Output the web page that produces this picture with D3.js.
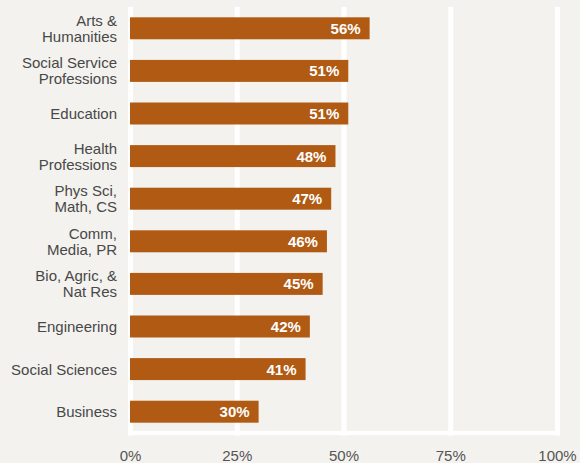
<!DOCTYPE html>
<html>
<head>
<meta charset="utf-8">
<script src="https://cdn.jsdelivr.net/npm/d3@7"></script>
<style>
  html, body { margin: 0; padding: 0; background: #f3f2ee; }
  svg { display: block; }
  text { font-family: "Liberation Sans", Arial, Helvetica, sans-serif; }
</style>
</head>
<body>
<div id="chart"></div>
<script>
// Share by field of study
const categories = [
  "Arts &\nHumanities",
  "Social Service\nProfessions",
  "Education",
  "Health\nProfessions",
  "Phys Sci,\nMath, CS",
  "Comm,\nMedia, PR",
  "Bio, Agric, &\nNat Res",
  "Engineering",
  "Social Sciences",
  "Business"
];
const values = [56, 51, 51, 48, 47, 46, 45, 42, 41, 30];
const tickValues = [0, 25, 50, 75, 100];
const tickLabels = ["0%", "25%", "50%", "75%", "100%"];

const width = 580, height = 463;
const barColor = "#b05a13";
const gridColor = "#ffffff";
const labelColor = "#484848";

const svg = d3.select("#chart").append("svg")
  .attr("width", width)
  .attr("height", height);

svg.append("rect").attr("width", width).attr("height", height).attr("fill", "#f3f2ee");

const x = d3.scaleLinear().domain([0, 100]).range([130.5, 557.5]);
const y = d3.scaleBand()
  .domain(categories)
  .range([7, 433])
  .paddingInner(0.484)
  .paddingOuter(0.242);

const gridTop = 7, gridBottom = 433;

// vertical gridlines
svg.append("g").selectAll("line")
  .data(tickValues)
  .join("line")
  .attr("x1", d => x(d))
  .attr("x2", d => x(d))
  .attr("y1", gridTop)
  .attr("y2", gridBottom + 2.5)
  .attr("stroke", gridColor)
  .attr("stroke-width", 5);

// bottom baseline
svg.append("line")
  .attr("x1", x(0) - 2.5)
  .attr("x2", x(100) + 2.5)
  .attr("y1", gridBottom)
  .attr("y2", gridBottom)
  .attr("stroke", gridColor)
  .attr("stroke-width", 4);

// bars
svg.append("g").selectAll("rect")
  .data(values)
  .join("rect")
  .attr("x", x(0) - 0.5)
  .attr("y", (d, i) => y(categories[i]))
  .attr("width", d => x(d) - x(0) + 0.5)
  .attr("height", y.bandwidth())
  .attr("fill", barColor);

// value labels inside bars
svg.append("g").selectAll("text")
  .data(values)
  .join("text")
  .attr("x", d => x(d) - 9)
  .attr("y", (d, i) => y(categories[i]) + y.bandwidth() / 2)
  .attr("dy", "0.36em")
  .attr("text-anchor", "end")
  .attr("fill", "#ffffff")
  .attr("font-size", 15)
  .attr("font-weight", "bold")
  .text(d => d + "%");

// category labels
const catG = svg.append("g");
categories.forEach((c, i) => {
  const lines = c.split("\n");
  const cy = y(c) + y.bandwidth() / 2;
  const lh = 16;
  const t = catG.append("text")
    .attr("text-anchor", "end")
    .attr("fill", labelColor)
    .attr("font-size", 15);
  lines.forEach((ln, j) => {
    t.append("tspan")
      .attr("x", 117)
      .attr("y", cy + (j - (lines.length - 1) / 2) * lh)
      .attr("dy", "0.36em")
      .text(ln);
  });
});

// x axis tick labels
svg.append("g").selectAll("text")
  .data(tickValues)
  .join("text")
  .attr("x", d => x(d))
  .attr("y", 455.5)
  .attr("dy", "0.36em")
  .attr("text-anchor", "middle")
  .attr("fill", "#555555")
  .attr("font-size", 15)
  .text((d, i) => tickLabels[i]);
</script>
</body>
</html>
